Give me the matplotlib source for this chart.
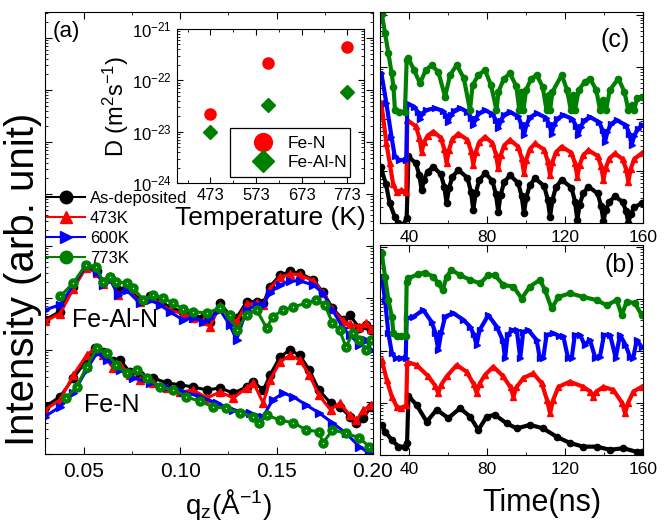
import numpy as np
import matplotlib
matplotlib.use('Agg')
import matplotlib.pyplot as plt
from matplotlib.patches import Rectangle
from matplotlib.ticker import LogLocator, NullFormatter, MultipleLocator, FixedLocator

plt.rcParams['font.family'] = ['Liberation Sans', 'DejaVu Sans']
plt.rcParams['mathtext.fontset'] = 'custom'
plt.rcParams['mathtext.rm'] = 'Liberation Sans'
plt.rcParams['mathtext.it'] = 'Liberation Sans:italic'

# ---- panel (a): reflectivity, log10 intensity (arb.) ----
q_feal = [0.030, 0.0378, 0.0447, 0.0512, 0.0568, 0.0602, 0.0637, 0.068, 0.0723, 0.0792, 0.0844, 0.0896,
          0.0948, 0.1016, 0.1067, 0.112, 0.1155, 0.1207, 0.1258, 0.1293, 0.1345, 0.1397, 0.1431, 0.1466,
          0.1518, 0.157, 0.162, 0.169, 0.174, 0.179, 0.1845, 0.188, 0.193, 0.1966, 0.199]
feal_asdep = [2.58, 2.74, 3.22, 3.60, 3.51, 3.31, 3.41, 3.15, 3.22, 2.96, 3.03, 2.96, 2.81, 2.74, 2.67, 2.62,
              2.54, 2.90, 2.67, 2.62, 2.93, 2.93, 2.90, 3.22, 3.44, 3.51, 3.48, 3.35, 3.12, 2.81, 2.58, 2.67,
              2.42, 2.48, 2.38]
feal_473 = [2.55, 2.70, 3.18, 3.58, 3.49, 3.27, 3.38, 3.05, 3.18, 2.92, 3.00, 2.90, 2.76, 2.70, 2.62, 2.55,
            2.45, 2.85, 2.62, 2.55, 2.88, 2.90, 2.86, 3.18, 3.40, 3.46, 3.45, 3.33, 3.10, 2.78, 2.55, 2.50,
            2.45, 2.52, 2.40]
feal_600 = [2.77, 2.87, 3.25, 3.62, 3.50, 3.25, 3.35, 3.06, 3.15, 2.90, 2.96, 2.87, 2.73, 2.58, 2.62, 2.54,
            2.62, 2.77, 2.48, 2.19, 2.77, 2.87, 2.87, 3.10, 3.25, 3.33, 3.33, 3.25, 3.10, 2.77, 2.42, 2.29,
            2.10, 2.19, 2.00]
q_feal_773 = [0.0378, 0.0447, 0.051, 0.0563, 0.0602, 0.0637, 0.067, 0.0723, 0.0758, 0.081, 0.0861, 0.0913,
              0.0965, 0.1016, 0.1067, 0.114, 0.1207, 0.1258, 0.1293, 0.1345, 0.1397, 0.1449, 0.148, 0.1535,
              0.1587, 0.1655, 0.1707, 0.175, 0.179, 0.1827, 0.186, 0.1896, 0.193, 0.1966, 0.199]
feal_773 = [3.03, 3.29, 3.63, 3.60, 3.31, 3.41, 3.31, 3.29, 3.19, 2.96, 3.06, 3.00, 2.90, 2.79, 2.74, 2.71,
            2.81, 2.67, 2.38, 2.67, 2.77, 2.42, 2.64, 2.77, 2.83, 2.90, 2.96, 2.87, 2.52, 2.38, 2.06, 2.33,
            2.19, 2.00, 2.19]

q_fen = [0.030, 0.0378, 0.0447, 0.0516, 0.056, 0.0602, 0.0654, 0.0689, 0.074, 0.0792, 0.0861, 0.093, 0.0999,
         0.1067, 0.114, 0.1207, 0.1276, 0.1345, 0.138, 0.1431, 0.1466, 0.1518, 0.157, 0.162, 0.167, 0.172,
         0.178, 0.1827, 0.188, 0.1914, 0.195, 0.199]
fen_asdep = [0.91, 1.10, 1.46, 1.81, 2.03, 1.97, 1.78, 1.81, 1.58, 1.52, 1.46, 1.37, 1.33, 1.29, 1.23, 1.27,
             1.17, 1.29, 1.39, 1.23, 1.52, 1.87, 2.00, 1.90, 1.62, 1.23, 0.98, 0.91, 0.72, 0.60, 0.69, 0.91]
fen_473 = [0.85, 1.04, 1.52, 1.90, 2.04, 1.90, 1.65, 1.71, 1.52, 1.42, 1.37, 1.27, 1.19, 1.23, 1.08, 1.19,
           1.08, 1.27, 1.37, 0.98, 1.42, 1.77, 1.90, 1.81, 1.52, 1.13, 0.85, 0.98, 0.75, 0.65, 0.85, 0.94]
q_fen_600 = [0.030, 0.0378, 0.0447, 0.0516, 0.0568, 0.062, 0.0689, 0.0758, 0.0844, 0.093, 0.1016, 0.1103,
             0.119, 0.1276, 0.1362, 0.1431, 0.148, 0.1535, 0.1587, 0.1655, 0.172, 0.179, 0.186, 0.193, 0.198]
fen_600 = [0.72, 0.91, 1.17, 1.62, 1.94, 1.81, 1.62, 1.46, 1.37, 1.29, 1.20, 1.10, 0.98, 0.85, 0.79, 0.72,
           1.04, 1.17, 1.10, 0.94, 0.79, 0.60, 0.40, 0.14, 0.02]
q_fen_773 = [0.041, 0.0464, 0.0516, 0.0568, 0.062, 0.067, 0.0723, 0.0775, 0.0827, 0.0896, 0.0965, 0.1033,
             0.1103, 0.1172, 0.124, 0.131, 0.138, 0.141, 0.1449, 0.1518, 0.1587, 0.1655, 0.172, 0.174, 0.179,
             0.186, 0.193, 0.198]
fen_773 = [1.08, 1.29, 1.68, 2.03, 1.94, 1.71, 1.55, 1.62, 1.46, 1.29, 1.23, 1.10, 1.01, 0.91, 0.88, 0.79,
           0.72, 0.60, 0.75, 0.65, 0.60, 0.46, 0.43, 0.21, 0.46, 0.40, 0.31, 0.14]

# ---- inset: diffusivity ----
temp_K = [473, 600, 773]
D_fen = [2.2e-23, 2.2e-22, 4.5e-22]
D_fealn = [1.0e-23, 3.3e-23, 6.0e-23]

# ---- panel (c): time spectra, log10 counts (arb.) ----
tc_asdep = [25.3, 28, 30, 32.6, 34.3, 37, 38.7, 39.6, 43.4, 45.2, 46.4, 47.6, 49.4, 52.4, 56.2, 58.0, 59.2,
            60.4, 62.2, 65.2, 69.9, 71.7, 72.9, 74.1, 75.9, 78.9, 82.7, 84.5, 85.7, 86.9, 88.7, 91.7, 95.9,
            97.7, 98.9, 100.1, 101.9, 104.6, 109.3, 111.1, 112.3, 113.5, 115.3, 118.3, 123.3, 125.1, 126.3,
            127.5, 129.3, 132, 136.7, 138.5, 139.7, 140.9, 142.7, 145.6, 149.5, 151.3, 152.5, 153.7, 155.5,
            159.3]
c_asdep = [1.08, 0.76, 0.38, 0.12, 0.0, -0.04, 0.10, 1.28, 1.15, 0.92, 0.63, 0.83, 0.99, 1.08, 0.94, 0.70,
           0.38, 0.67, 0.89, 1.02, 0.87, 0.60, 0.25, 0.57, 0.82, 0.96, 0.81, 0.55, 0.22, 0.54, 0.78, 0.92,
           0.77, 0.52, 0.19, 0.49, 0.73, 0.86, 0.71, 0.45, 0.12, 0.44, 0.69, 0.83, 0.68, 0.41, 0.06, 0.35,
           0.57, 0.70, 0.57, 0.33, 0.03, 0.25, 0.41, 0.51, 0.41, 0.23, 0.0, 0.17, 0.30, 0.38]
tc_473 = [25.7, 28.3, 30, 31.7, 33.5, 36, 38.5, 39.0, 43.4, 45.2, 46.4, 47.6, 49.4, 52.4, 56.2, 58.0, 59.2,
          60.4, 62.2, 65.2, 69.9, 71.7, 72.9, 74.1, 75.9, 78.9, 82.7, 84.5, 85.7, 86.9, 88.7, 91.7, 95.9,
          97.7, 98.9, 100.1, 101.9, 104.6, 109.3, 111.1, 112.3, 113.5, 115.3, 118.3, 123.3, 125.1, 126.3,
          127.5, 129.3, 132, 136.7, 138.5, 139.7, 140.9, 142.7, 145.6, 149.5, 151.3, 152.5, 153.7, 155.5,
          159.3]
c_473 = [2.31, 1.53, 1.15, 0.76, 0.60, 0.63, 0.60, 1.98, 1.86, 1.64, 1.37, 1.55, 1.68, 1.76, 1.64, 1.42,
         1.15, 1.41, 1.61, 1.72, 1.60, 1.39, 1.12, 1.36, 1.55, 1.66, 1.54, 1.32, 1.05, 1.30, 1.49, 1.60,
         1.47, 1.25, 0.96, 1.22, 1.42, 1.53, 1.41, 1.19, 0.92, 1.17, 1.36, 1.47, 1.35, 1.15, 0.89, 1.12,
         1.30, 1.40, 1.29, 1.09, 0.83, 1.06, 1.24, 1.34, 1.23, 1.04, 0.79, 1.04, 1.23, 1.34]
tc_600 = [25.7, 28.3, 30.9, 32.6, 35, 38.5, 39.0, 42.5, 44.3, 45.5, 46.7, 48.5, 53.2, 57.1, 58.9, 60.1, 61.3,
          63.1, 66.1, 69.9, 71.7, 72.9, 74.1, 75.9, 78.9, 82.7, 84.5, 85.7, 86.9, 88.7, 91.7, 95.9, 97.7,
          98.9, 100.1, 101.9, 105.4, 110.1, 111.9, 113.1, 114.3, 116.1, 119.1, 123.8, 125.6, 126.8, 128.0,
          129.8, 132.8, 137.5, 139.3, 140.5, 141.7, 143.5, 146.5, 151.2, 153.0, 154.2, 155.4, 157.2, 159.3]
c_600 = [2.88, 2.30, 1.66, 1.28, 1.21, 1.21, 2.30, 2.24, 2.14, 2.01, 2.10, 2.17, 2.21, 2.16, 2.07, 1.95,
         2.07, 2.16, 2.21, 2.14, 2.03, 1.88, 2.01, 2.11, 2.17, 2.10, 1.98, 1.82, 1.96, 2.08, 2.14, 2.05,
         1.89, 1.69, 1.88, 2.03, 2.11, 2.03, 1.90, 1.72, 1.88, 2.01, 2.08, 2.00, 1.87, 1.69, 1.85, 1.97,
         2.04, 1.94, 1.78, 1.56, 1.75, 1.90, 1.98, 1.88, 1.72, 1.50, 1.67, 1.80, 1.88]
tc_773 = [25.9, 27.6, 29.3, 31, 31.9, 32.7, 35, 37.8, 38.7, 39.6, 42.5, 45.5, 48.5, 51.5, 55, 58.4, 61, 64.4,
          68, 71.2, 72.5, 75.5, 78.9, 82, 84.8, 85.8, 88.5, 91.7, 95, 96.5, 97.5, 98.6, 100, 102.5, 105.4,
          108.5, 110.5, 111.5, 112.3, 113.5, 118.3, 121, 123, 124, 125.1, 127, 130, 132.8, 136, 138, 139.7,
          141, 143, 147.4, 150.5, 152.5, 154.2, 155.5, 157, 159.3]
c_773 = [4.03, 3.65, 3.27, 2.88, 2.62, 2.17, 2.14, 2.14, 3.13, 3.17, 2.94, 2.69, 2.94, 3.04, 2.90, 2.43,
         2.85, 3.04, 2.79, 2.17, 2.65, 2.85, 2.94, 2.65, 2.17, 2.52, 2.77, 2.88, 2.63, 2.17, 2.52, 2.17,
         2.56, 2.77, 2.85, 2.62, 2.17, 2.46, 2.17, 2.52, 2.85, 2.56, 2.17, 2.46, 2.17, 2.56, 2.71, 2.78,
         2.56, 2.17, 2.37, 2.17, 2.56, 2.78, 2.52, 2.17, 2.27, 2.17, 2.40, 2.43]

# ---- panel (b): time spectra, log10 counts (arb.) ----
tb_asdep = [25.9, 27.6, 31, 34.5, 37.9, 38.9, 39.6, 43.8, 49, 54.1, 60.1, 66.1, 71.2, 75.5, 79.8, 84, 90,
            95.2, 102, 108.8, 115.7, 122.5, 129.4, 136.2, 143.1, 149.9, 156.8, 159.3]
b_asdep = [0.58, 0.45, 0.29, 0.16, 0.16, 0.23, 1.14, 0.96, 0.64, 0.87, 0.71, 0.90, 0.74, 0.48, 0.74, 0.77,
           0.61, 0.51, 0.58, 0.51, 0.35, 0.23, 0.16, 0.16, 0.10, 0.13, 0.06, 0.06]
tb_473 = [25.9, 28.5, 31.1, 33.6, 36, 38.5, 39.0, 43.8, 49.9, 53.4, 54.9, 56.4, 59.2, 64.4, 69.5, 73.1, 74.6,
          76.1, 78.9, 83.2, 88.3, 92.0, 93.5, 95.0, 98.6, 103.7, 108, 110.8, 112.3, 113.8, 116.6, 122.5,
          129.4, 133, 134.5, 136, 139.7, 144.8, 149.3, 150.8, 152.3, 155.1, 159.3]
b_473 = [1.83, 1.44, 1.12, 0.93, 0.90, 0.96, 1.79, 1.73, 1.51, 1.33, 1.19, 1.35, 1.51, 1.73, 1.60, 1.36,
         1.19, 1.37, 1.54, 1.70, 1.51, 1.30, 1.12, 1.30, 1.48, 1.57, 1.38, 1.05, 0.80, 1.05, 1.31, 1.41,
         1.31, 1.22, 1.12, 1.22, 1.31, 1.25, 1.00, 0.80, 1.00, 1.22, 1.31]
tb_600 = [25.9, 27.6, 29.3, 31.1, 33, 36, 38.2, 38.7, 42.2, 47.2, 51.5, 53.4, 54.9, 56.4, 58.4, 62.6, 67.8,
          71.2, 73.1, 74.6, 76.1, 80.6, 84.9, 88, 89.2, 90.5, 93, 95.2, 97, 98.5, 101.2, 105.4, 107, 108.8,
          110.5, 114, 117, 119.1, 121.5, 123.4, 125, 127.7, 130, 132.8, 135.5, 137.9, 140, 143.1, 146,
          148.2, 151, 153.3, 155, 156.8, 159.3]
b_600 = [3.43, 2.98, 2.34, 1.96, 1.86, 1.86, 1.87, 2.63, 2.66, 2.79, 2.56, 2.35, 2.02, 2.35, 2.66, 2.73,
         2.60, 2.47, 2.32, 2.12, 2.40, 2.69, 2.47, 2.21, 1.86, 2.31, 2.40, 2.40, 1.87, 2.37, 2.40, 2.21,
         1.87, 1.86, 2.31, 2.34, 2.29, 2.28, 1.87, 1.86, 2.31, 2.31, 2.12, 2.21, 1.87, 1.89, 2.31, 2.31,
         1.87, 2.31, 2.12, 1.89, 1.87, 2.21, 2.08]
tb_773 = [25.9, 27.6, 29.3, 31.1, 31.9, 33.6, 36, 38.2, 38.7, 39.6, 44.7, 48.1, 52.4, 54.9, 57.2, 59.2, 61.7,
          66.1, 71.2, 76.4, 80.6, 84, 88.3, 93.5, 97.7, 102, 107.1, 109.7, 113.1, 116.6, 122.5, 129.4,
          136.2, 141.4, 146.5, 149.1, 151.6, 155.9, 159.3]
b_773 = [3.88, 3.43, 2.98, 2.66, 2.34, 2.28, 2.28, 2.28, 3.33, 3.40, 3.48, 3.51, 3.43, 3.30, 3.17, 3.43,
         3.56, 3.46, 3.37, 3.30, 3.46, 3.46, 3.27, 3.24, 3.01, 3.24, 3.37, 3.17, 2.82, 3.04, 3.11, 3.04,
         2.98, 2.88, 2.98, 2.69, 2.95, 2.92, 2.69]

labels = ['As-deposited', '473K', '600K', '773K']
colors = ['black', '#ff0000', '#0000ff', '#008000']
markers = ['o', '^', '>', 'o']


def log_ticks(ax):
    ax.set_yscale('log')
    ax.yaxis.set_major_locator(LogLocator(base=10, numticks=20))
    ax.yaxis.set_minor_locator(LogLocator(base=10, subs=np.arange(2, 10), numticks=20))
    ax.yaxis.set_major_formatter(NullFormatter())
    ax.yaxis.set_minor_formatter(NullFormatter())
    ax.tick_params(which='both', direction='in', top=True, right=True)
    ax.tick_params(which='major', length=5)
    ax.tick_params(which='minor', length=2.5)


fig = plt.figure(figsize=(6.67, 5.22), dpi=100)

# ---------------- (a) ----------------
ax_a = fig.add_axes([0.0675, 0.1303, 0.4917, 0.8467])
log_ticks(ax_a)
sets_a = [
    (q_feal, feal_asdep, q_fen, fen_asdep),
    (q_feal, feal_473, q_fen, fen_473),
    (q_feal, feal_600, q_fen_600, fen_600),
    (q_feal_773, feal_773, q_fen_773, fen_773),
]
for (qa, ya, qb, yb), lab, c, m in zip(sets_a, labels, colors, markers):
    ms = 6.5 if c == '#008000' else 6
    for qq, yy in ((qa, ya), (qb, yb)):
        ax_a.plot(qq, 10 ** np.array(yy), color=c, marker=m, ms=ms, lw=2.2, mec=c)
    if c == '#008000':
        for qq, yy in ((qa, ya), (qb, yb)):
            ax_a.plot(qq, 10 ** np.array(yy), ls='none', marker='o', ms=1.0, color='#d8ffd8', mec='none')
ax_a.set_xlim(0.03, 0.20)
ax_a.set_ylim(1, 10 ** 8.5)
ax_a.xaxis.set_major_locator(FixedLocator([0.05, 0.10, 0.15, 0.20]))
ax_a.xaxis.set_minor_locator(FixedLocator([0.075, 0.125, 0.175]))
ax_a.set_xticklabels(['0.05', '0.10', '0.15', '0.20'])
ax_a.tick_params(axis='x', labelsize=15, pad=6)
ax_a.set_xlabel(r'q$_\mathrm{z}$(Å$^{\mathrm{-1}}$)', fontsize=20, labelpad=2)
ax_a.xaxis.set_label_coords(0.558, -0.075, transform=ax_a.transAxes)
ax_a.set_ylabel('Intensity (arb. unit)', fontsize=29)
ax_a.yaxis.set_label_coords(-0.008, 0.395)
ax_a.text(0.064, 0.955, '(a)', transform=ax_a.transAxes, fontsize=16, ha='center', va='center')
ax_a.text(0.0663, 10 ** 2.58, 'Fe-Al-N', fontsize=18, ha='center', va='center')
ax_a.text(0.0648, 10 ** 0.94, 'Fe-N', fontsize=18, ha='center', va='center')

handles = []
for lab, c, m in zip(labels, colors, markers):
    h, = ax_a.plot([], [], color=c, marker=m, ms=9, lw=1.5, label=lab)
    handles.append(h)
ax_a.legend(handles=handles, loc='upper left', bbox_to_anchor=(-0.015, 0.61), frameon=False,
            fontsize=12, handlelength=2.3, handletextpad=0.3, labelspacing=0.3, borderaxespad=0)

# ---------------- inset ----------------
ax_i = fig.add_axes([0.2654, 0.6494, 0.2803, 0.2950])
ax_i.set_yscale('log')
ax_i.plot(temp_K, D_fen, ls='none', marker='o', ms=8, color='#ff0000', label='Fe-N')
ax_i.plot(temp_K, D_fealn, ls='none', marker='D', ms=7, color='#008000', label='Fe-Al-N')
ax_i.set_xlim(400, 810)
ax_i.set_ylim(1e-24, 1e-21)
ax_i.xaxis.set_major_locator(FixedLocator([473, 573, 673, 773]))
ax_i.xaxis.set_minor_locator(FixedLocator([423, 523, 623, 723]))
ax_i.yaxis.set_major_locator(LogLocator(base=10, numticks=10))
ax_i.yaxis.set_minor_locator(LogLocator(base=10, subs=np.arange(2, 10), numticks=10))
ax_i.yaxis.set_minor_formatter(NullFormatter())
ax_i.tick_params(which='both', direction='in', top=True, right=True, labelsize=12)
ax_i.tick_params(which='major', length=4)
ax_i.tick_params(which='minor', length=2)
ax_i.set_xlabel('Temperature (K)', fontsize=19, labelpad=2)
ax_i.set_ylabel(r'D (m$^2$s$^{-1}$)', fontsize=17, labelpad=1)
ax_i.add_patch(Rectangle((0.283, 0.039), 0.642, 0.318, transform=ax_i.transAxes,
                         facecolor='white', edgecolor='black', lw=0.9, zorder=4))
leg = ax_i.legend(loc='center left', bbox_to_anchor=(0.33, 0.195), fontsize=12.5, markerscale=1.6,
                  frameon=False, borderpad=0.4, labelspacing=0.25, handlelength=2.0,
                  handletextpad=0.4, borderaxespad=0)
leg.set_zorder(5)

# ---------------- (c) and (b) ----------------
ax_c = fig.add_axes([0.5697, 0.5728, 0.3943, 0.4042])
ax_b = fig.add_axes([0.5697, 0.1284, 0.3943, 0.4023])
sets_c = [(tc_asdep, c_asdep), (tc_473, c_473), (tc_600, c_600), (tc_773, c_773)]
sets_b = [(tb_asdep, b_asdep), (tb_473, b_473), (tb_600, b_600), (tb_773, b_773)]
for ax, sets, top in ((ax_c, sets_c, 4.06), (ax_b, sets_b, 4.04)):
    log_ticks(ax)
    for (tt, yy), c, m in zip(sets, colors, markers):
        ax.plot(tt, 10 ** np.array(yy), color=c, marker=m, ms=4.5, lw=3, mec=c)
    ax.set_xlim(25, 160)
    ax.set_ylim(1, 10 ** top)
    ax.xaxis.set_major_locator(MultipleLocator(40))
    ax.xaxis.set_minor_locator(MultipleLocator(20))
    ax.tick_params(axis='x', labelsize=12.5, pad=5)
ax_c.text(0.894, 0.867, '(c)', transform=ax_c.transAxes, fontsize=18, ha='center', va='center')
ax_b.text(0.913, 0.905, '(b)', transform=ax_b.transAxes, fontsize=18, ha='center', va='center')
ax_b.set_xlabel('Time(ns)', fontsize=22)
ax_b.xaxis.set_label_coords(0.616, -0.155)

fig.savefig('out.png', dpi=100)
